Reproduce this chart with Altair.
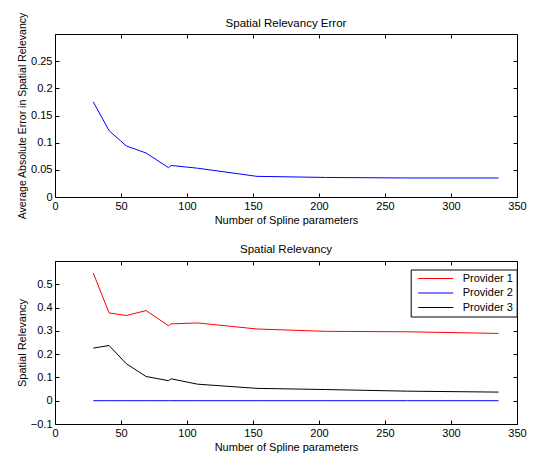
import altair as alt
import pandas as pd

# ---- data ----
x_params = [29, 41, 54, 69, 86, 88, 108, 153, 205, 267, 336]
abs_error = [0.175, 0.122, 0.094, 0.081, 0.054, 0.058, 0.053, 0.038, 0.036, 0.035, 0.035]
provider1 = [0.548, 0.377, 0.366, 0.387, 0.322, 0.330, 0.334, 0.308, 0.298, 0.296, 0.289]
provider2 = [0, 0, 0, 0, 0, 0, 0, 0, 0, 0, 0]
provider3 = [0.226, 0.237, 0.159, 0.104, 0.086, 0.094, 0.071, 0.053, 0.048, 0.041, 0.037]
series_names = ["Provider 1", "Provider 2", "Provider 3"]
series_colors = ["#ff0000", "#0000ff", "#000000"]
x_ticks = [0, 50, 100, 150, 200, 250, 300, 350]
err_ticks = [0, 0.05, 0.1, 0.15, 0.2, 0.25]
rel_ticks = [-0.1, 0, 0.1, 0.2, 0.3, 0.4, 0.5]

FONT = "Liberation Sans"
W, H = 462, 163
GAP = 64

df_err = pd.DataFrame({"x": x_params, "err": abs_error})
rows = []
for name, vals in zip(series_names, [provider1, provider2, provider3]):
    for xv, yv in zip(x_params, vals):
        rows.append({"x": xv, "rel": yv, "series": name})
df_rel = pd.DataFrame(rows)


def main_axis(orient, values, title, title_size=11):
    return alt.Axis(
        orient=orient, values=values, title=title, format=".2~f",
        labelFont=FONT, labelFontSize=11, labelColor="black", labelPadding=3,
        labelFlush=False, labelOverlap=False,
        tickSize=4, tickColor="black", tickWidth=1, offset=-4,
        domain=False, grid=False,
        titleFont=FONT, titleFontSize=title_size, titleFontWeight="normal",
        titleColor="black", titlePadding=3,
    )


def frame_axis(orient, values):
    return alt.Axis(
        orient=orient, values=values, title=None, labels=False,
        tickSize=4, tickColor="black", tickWidth=1, offset=-4,
        domain=False, grid=False,
    )


def chart_title(text, dy=0):
    return alt.TitleParams(
        text, font=FONT, fontSize=11.5, fontWeight="normal", color="black",
        anchor="middle", frame="group", baseline="alphabetic", offset=7, dy=dy,
    )


xs = alt.Scale(domain=[0, 350], nice=False, zero=False)
ys_err = alt.Scale(domain=[0, 0.3], nice=False, zero=False)
ys_rel = alt.Scale(domain=[-0.1, 0.6], nice=False, zero=False)

# ---- top panel ----
top_line = alt.Chart(df_err).mark_line(color="#0000ff", strokeWidth=1).encode(
    x=alt.X("x:Q", scale=xs, axis=main_axis("bottom", x_ticks, "Number of Spline parameters")),
    y=alt.Y("err:Q", scale=ys_err,
            axis=main_axis("left", err_ticks, "Average Absolute Error in Spatial Relevancy", 10.5)),
)
top_frame = alt.Chart(df_err).mark_line(opacity=0).encode(
    x=alt.X("x:Q", scale=xs, axis=frame_axis("top", x_ticks)),
    y=alt.Y("err:Q", scale=ys_err, axis=frame_axis("right", err_ticks)),
)
top = alt.layer(top_line, top_frame).properties(
    width=W, height=H, title=chart_title("Spatial Relevancy Error", dy=34)
)

# ---- bottom panel ----
bottom_lines = alt.Chart(df_rel).mark_line(strokeWidth=1).encode(
    x=alt.X("x:Q", scale=xs, axis=main_axis("bottom", x_ticks, "Number of Spline parameters")),
    y=alt.Y("rel:Q", scale=ys_rel, axis=main_axis("left", rel_ticks, "Spatial Relevancy")),
    color=alt.Color(
        "series:N",
        scale=alt.Scale(domain=series_names, range=series_colors),
        legend=alt.Legend(
            orient="none", legendX=355.7, legendY=H + GAP + 8.5, title=None,
            symbolType="stroke", symbolSize=1225, symbolStrokeWidth=1,
            symbolOffset=4, labelOffset=9, clipHeight=12,
            labelFont=FONT, labelFontSize=11, labelColor="black",
            strokeColor="black", fillColor="white", padding=3, rowPadding=2.5,
            cornerRadius=0,
        ),
    ),
    detail="series:N",
)
bottom_frame = alt.Chart(df_rel).mark_line(opacity=0).encode(
    x=alt.X("x:Q", scale=xs, axis=frame_axis("top", x_ticks)),
    y=alt.Y("rel:Q", scale=ys_rel, axis=frame_axis("right", rel_ticks)),
    detail="series:N",
)
bottom = alt.layer(bottom_lines, bottom_frame).properties(
    width=W, height=H, title=chart_title("Spatial Relevancy", dy=11)
)

chart = (
    alt.vconcat(top, bottom, spacing=GAP, bounds="flush")
    .properties(padding={"left": 7, "top": 3, "right": 5, "bottom": 5}, background="white")
    .configure_view(stroke="black", strokeWidth=1)
)

chart.save("out.html", embed_options={"renderer": "svg", "actions": False})
